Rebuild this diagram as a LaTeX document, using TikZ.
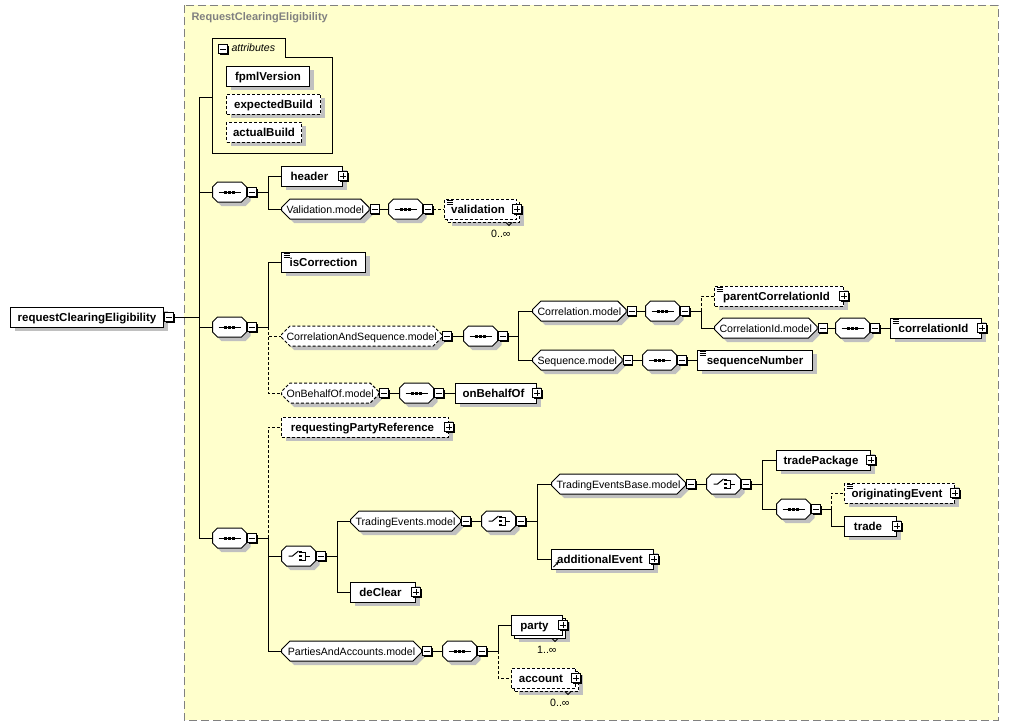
\documentclass[tikz,border=0pt]{standalone}
\usepackage{fontspec}
\setmainfont{Liberation Sans}
\usetikzlibrary{shapes.misc,shadows,arrows.meta}
\definecolor{bgyellow}{RGB}{255,255,204}
\definecolor{framegray}{RGB}{128,128,128}
\definecolor{shadowgray}{RGB}{192,192,192}
\newcommand\elemfont{\fontsize{11.5}{13}\selectfont\bfseries}
\newcommand\modfont{\fontsize{10.6}{12}\selectfont}
\newcommand\titlefont{\fontsize{11}{13}\selectfont\bfseries}
\tikzset{
  shad/.style={drop shadow={shadow xshift=4pt,shadow yshift=-4pt,fill=shadowgray,opacity=1}},
  ebox/.style={draw,fill=white,anchor=west,minimum height=20pt,minimum width=#1pt,inner sep=0pt,text height=10pt,text depth=2pt,font=\elemfont},
  elem/.style={ebox=#1,shad},
  model/.style={chamfered rectangle,chamfered rectangle xsep=5pt,draw,fill=white,anchor=west,minimum height=20pt,minimum width=#1pt,inner sep=0pt,text height=10pt,text depth=2pt,font=\modfont,shad},
  opt/.style={dash pattern=on 3pt off 2pt},
  pl/.style={execute at end node={\kern5pt}},
  mult/.style={anchor=east,inner sep=0pt,font=\modfont},
  doc/.style={path picture={\foreach \k in {1.5,3.5,5.5}{\draw[solid,line width=.8pt] ([shift={(2pt,-\k*1pt)}]path picture bounding box.north west) -- ++(6pt,0pt);}}},
  refd/.style={path picture={\draw[solid,-{Stealth[length=3pt,width=3.5pt]}] ([shift={(2pt,2pt)}]path picture bounding box.south west) -- ++(5pt,5pt);}},
  minusbox/.style={draw,fill=white,minimum size=9pt,inner sep=0pt,anchor=west,drop shadow={shadow xshift=1pt,shadow yshift=-1pt,fill=black,opacity=1},
    path picture={\draw[solid] ([xshift=-3pt]path picture bounding box.center) -- ([xshift=3pt]path picture bounding box.center);}},
  plusbox/.style={minusbox,anchor=center,
    path picture={\draw[solid] ([xshift=-3pt]path picture bounding box.center) -- ([xshift=3pt]path picture bounding box.center)
      ([yshift=-3pt]path picture bounding box.center) -- ([yshift=3pt]path picture bounding box.center);}},
  seqbox/.style={model=34,path picture={
    \draw[solid] ([xshift=-11pt]path picture bounding box.center) -- ([xshift=11pt]path picture bounding box.center);
    \foreach \k in {-4,0,4}{\fill[black] ([shift={(\k*1pt-1.5pt,-1.5pt)}]path picture bounding box.center) rectangle +(3pt,3pt);}}},
  choicebox/.style={model=34,path picture={
    \draw[solid] ([xshift=-10pt]path picture bounding box.center) -- ([xshift=-6pt]path picture bounding box.center) -- ([shift={(0pt,5pt)}]path picture bounding box.center);
    \foreach \k in {-4,0,4}{\fill[black] ([shift={(.5pt,\k*1pt-1.25pt)}]path picture bounding box.center) rectangle +(2.5pt,2.5pt);}
    \draw[solid] ([shift={(3pt,4pt)}]path picture bounding box.center) -- ([shift={(7pt,4pt)}]path picture bounding box.center)
      -- ([shift={(7pt,-4pt)}]path picture bounding box.center) -- ([shift={(3pt,-4pt)}]path picture bounding box.center)
      ([shift={(7pt,0pt)}]path picture bounding box.center) -- ([shift={(11pt,0pt)}]path picture bounding box.center);}}
}

\begin{document}
\begin{tikzpicture}[x=1pt,y=-1pt,line width=1pt]
	\useasboundingbox (0,0) rectangle (1009,726);
	\fill[bgyellow] (184,5) rectangle (998,720);
	\draw[framegray,dash pattern=on 8pt off 4pt] (184,5) rectangle (998,720);
	\node[anchor=west,inner sep=0pt,text=framegray,font=\titlefont] (title) at (191,18) {RequestClearingEligibility};

	\node[elem=153] (root) at (10,317) {requestClearingEligibility};
	\node[minusbox] (rootm) at (root.east) {};
	\coordinate (trunk) at ([xshift=25pt]rootm.east);

	\draw (212,38) -- (285,38) -- (285,57) -- (332,57) -- (332,153) -- (212,153) -- cycle;
	\coordinate (attr) at (212,97);
	\node[minusbox,anchor=center] (attrm) at (223,49) {};
	\node[anchor=west,inner sep=0pt,font=\modfont\itshape] (attrlbl) at (231,48) {attributes};
	\node[elem=83] (fpml) at (226,76) {fpmlVersion};
	\node[elem=94,opt] (expb) at (226,104) {expectedBuild};
	\node[elem=75,opt] (actb) at (226,132) {actualBuild};

	\node[seqbox] (seqa) at (212,192) {};
	\node[minusbox] (seqam) at (seqa.east) {};
	\coordinate (ja) at ([xshift=11pt]seqam.east);
	\node[elem=61,pl] (hdr) at (281,176) {header};
	\node[plusbox] (hdrp) at (hdr.east) {};
	\node[model=86] (valmod) at (281,209) {Validation.model};
	\node[minusbox] (valmodm) at (valmod.east) {};
	\node[seqbox] (valseq) at (388,209) {};
	\node[minusbox] (valseqm) at (valseq.east) {};
	\node[elem=72,opt] (valb) at (447,212) {};
	\node[ebox=72,opt,pl,doc] (val) at (444,209) {validation};
	\node[plusbox] (valp) at (val.east) {};
	\node[mult] (valn) at ([xshift=-9pt,yshift=-11pt]valb.south east) {0..∞};

	\node[seqbox] (seqb) at (212,327) {};
	\node[minusbox] (seqbm) at (seqb.east) {};
	\coordinate (jb) at ([xshift=11pt]seqbm.east);
	\node[elem=84,doc] (iscorr) at (281,262) {isCorrection};
	\node[model=160,opt] (cas) at (281,336) {CorrelationAndSequence.model};
	\node[minusbox] (casm) at (cas.east) {};
	\node[seqbox] (casseq) at (463,336) {};
	\node[minusbox] (casseqm) at (casseq.east) {};
	\coordinate (jc) at ([xshift=10pt]casseqm.east);
	\node[model=92] (corrmod) at (532,311) {Correlation.model};
	\node[minusbox] (corrmodm) at (corrmod.east) {};
	\node[seqbox] (corrseq) at (645,311) {};
	\node[minusbox] (corrseqm) at (corrseq.east) {};
	\coordinate (jd) at ([xshift=11pt]corrseqm.east);
	\node[elem=129,opt,pl,doc] (pcid) at (714,296) {parentCorrelationId};
	\node[plusbox] (pcidp) at (pcid.east) {};
	\node[model=98] (cidmod) at (714,328) {CorrelationId.model};
	\node[minusbox] (cidmodm) at (cidmod.east) {};
	\node[seqbox] (cidseq) at (835,328) {};
	\node[minusbox] (cidseqm) at (cidseq.east) {};
	\node[elem=91,pl,doc] (cid) at (890,328) {correlationId};
	\node[plusbox] (cidp) at (cid.east) {};
	\node[model=88] (seqmod) at (532,360) {Sequence.model};
	\node[minusbox] (seqmodm) at (seqmod.east) {};
	\node[seqbox] (seqseq) at (642,360) {};
	\node[minusbox] (seqseqm) at (seqseq.east) {};
	\node[elem=115,doc] (seqnum) at (697,360) {sequenceNumber};
	\node[model=96,opt] (obo) at (281,393) {OnBehalfOf.model};
	\node[minusbox] (obom) at (obo.east) {};
	\node[seqbox] (oboseq) at (399,393) {};
	\node[minusbox] (oboseqm) at (oboseq.east) {};
	\node[elem=81,pl] (onbeh) at (455,393) {onBehalfOf};
	\node[plusbox] (onbehp) at (onbeh.east) {};

	\node[seqbox] (seqc) at (212,538) {};
	\node[minusbox] (seqcm) at (seqc.east) {};
	\coordinate (je) at ([xshift=11pt]seqcm.east);
	\node[elem=167,opt,pl] (rpr) at (281,427) {requestingPartyReference};
	\node[plusbox] (rprp) at (rpr.east) {};
	\node[choicebox] (cha) at (281,556) {};
	\node[minusbox] (cham) at (cha.east) {};
	\coordinate (jf) at ([xshift=11pt]cham.east);
	\node[model=110] (temod) at (350,521) {TradingEvents.model};
	\node[minusbox] (temodm) at (temod.east) {};
	\node[choicebox] (tech) at (481,521) {};
	\node[minusbox] (techm) at (tech.east) {};
	\coordinate (jg) at ([xshift=11pt]techm.east);
	\node[model=134] (tebmod) at (551,484) {TradingEventsBase.model};
	\node[minusbox] (tebmodm) at (tebmod.east) {};
	\node[choicebox] (tebch) at (706,484) {};
	\node[minusbox] (tebchm) at (tebch.east) {};
	\coordinate (jh) at ([xshift=11pt]tebchm.east);
	\node[elem=94,pl] (tpkg) at (776,460) {tradePackage};
	\node[plusbox] (tpkgp) at (tpkg.east) {};
	\node[seqbox] (tebseq) at (776,509) {};
	\node[minusbox] (tebseqm) at (tebseq.east) {};
	\coordinate (ji) at ([xshift=10pt]tebseqm.east);
	\node[elem=110,opt,pl,doc] (orig) at (844,493) {originatingEvent};
	\node[plusbox] (origp) at (orig.east) {};
	\node[elem=52,pl] (trade) at (844,526) {trade};
	\node[plusbox] (tradep) at (trade.east) {};
	\node[elem=102,pl,refd] (addev) at (551,559) {additionalEvent};
	\node[plusbox] (addevp) at (addev.east) {};
	\node[elem=65,pl] (declr) at (350,592) {deClear};
	\node[plusbox] (declrp) at (declr.east) {};
	\node[model=140] (pamod) at (281,651) {PartiesAndAccounts.model};
	\node[minusbox] (pamodm) at (pamod.east) {};
	\node[seqbox] (paseq) at (442,651) {};
	\node[minusbox] (paseqm) at (paseq.east) {};
	\coordinate (jj) at ([xshift=11pt]paseqm.east);
	\node[elem=51] (partyb) at (514,628) {};
	\node[ebox=51,pl] (party) at (511,625) {party};
	\node[plusbox] (partyp) at (party.east) {};
	\node[mult] (partyn) at ([xshift=-9pt,yshift=-11pt]partyb.south east) {1..∞};
	\node[elem=64,opt] (acctb) at (514,681) {};
	\node[ebox=64,opt,pl] (acct) at (511,678) {account};
	\node[plusbox] (acctp) at (acct.east) {};
	\node[mult] (acctn) at ([xshift=-9pt,yshift=-11pt]acctb.south east) {0..∞};

	\draw ([xshift=-14pt]valb.south east) -- ++(3,3) -- ++(3,-3);
	\draw ([xshift=-14pt]partyb.south east) -- ++(3,3) -- ++(3,-3);
	\draw ([xshift=-14pt]acctb.south east) -- ++(3,3) -- ++(3,-3);

	\draw (rootm.east) -- (trunk);
	\draw (trunk) |- (attr);
	\draw (trunk) |- (seqa.west);
	\draw (trunk) |- (seqb.west);
	\draw (trunk) |- (seqc.west);
	\draw (seqam.east) -- (ja);
	\draw (ja) |- (hdr.west);
	\draw (ja) |- (valmod.west);
	\draw (valmodm.east) -- (valseq.west);
	\draw[opt] (valseqm.east) -- (val.west);
	\draw (seqbm.east) -- (jb);
	\draw (jb) |- (iscorr.west);
	\draw[opt] (jb) |- (cas.west);
	\draw[opt] (jb) |- (obo.west);
	\draw (casm.east) -- (casseq.west);
	\draw (casseqm.east) -- (jc);
	\draw (jc) |- (corrmod.west);
	\draw (jc) |- (seqmod.west);
	\draw (corrmodm.east) -- (corrseq.west);
	\draw (corrseqm.east) -- (jd);
	\draw[opt] (jd) |- (pcid.west);
	\draw (jd) |- (cidmod.west);
	\draw (cidmodm.east) -- (cidseq.west);
	\draw (cidseqm.east) -- (cid.west);
	\draw (seqmodm.east) -- (seqseq.west);
	\draw (seqseqm.east) -- (seqnum.west);
	\draw (obom.east) -- (oboseq.west);
	\draw (oboseqm.east) -- (onbeh.west);
	\draw (seqcm.east) -- (je);
	\draw[opt] (je) |- (rpr.west);
	\draw (je) |- (cha.west);
	\draw (je) |- (pamod.west);
	\draw (cham.east) -- (jf);
	\draw (jf) |- (temod.west);
	\draw (jf) |- (declr.west);
	\draw (temodm.east) -- (tech.west);
	\draw (techm.east) -- (jg);
	\draw (jg) |- (tebmod.west);
	\draw (jg) |- (addev.west);
	\draw (tebmodm.east) -- (tebch.west);
	\draw (tebchm.east) -- (jh);
	\draw (jh) |- (tpkg.west);
	\draw (jh) |- (tebseq.west);
	\draw (tebseqm.east) -- (ji);
	\draw[opt] (ji) |- (orig.west);
	\draw (ji) |- (trade.west);
	\draw (pamodm.east) -- (paseq.west);
	\draw (paseqm.east) -- (jj);
	\draw (jj) |- (party.west);
	\draw[opt] (jj) |- (acct.west);
\end{tikzpicture}
\end{document}
